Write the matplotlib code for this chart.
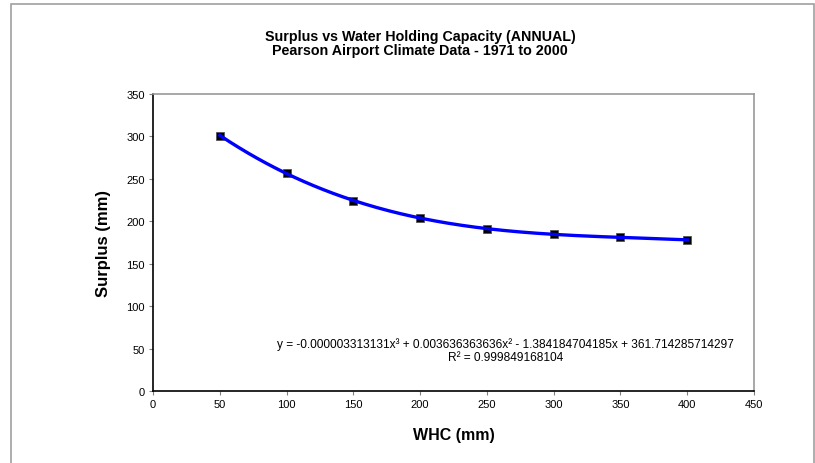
import matplotlib
matplotlib.use('Agg')
import matplotlib.pyplot as plt
import numpy as np
from matplotlib.patches import Rectangle

plt.rcParams['font.family'] = ['Liberation Sans', 'DejaVu Sans']

whc = [50, 100, 150, 200, 250, 300, 350, 400]          # mm
surplus = [301, 257, 224, 204, 191, 185, 181, 178]     # mm

title = 'Surplus vs Water Holding Capacity (ANNUAL)\nPearson Airport Climate Data - 1971 to 2000'
eq_text = ('y = -0.000003313131x³ + 0.003636363636x² - 1.384184704185x + 361.714285714297\n'
           'R² = 0.999849168104')

x = np.array(whc, dtype=float)
y = np.array(surplus, dtype=float)

# cubic trendline like the excel one
coef = np.polyfit(x, y, 3)
xs = np.linspace(x.min(), x.max(), 200)
ys = np.polyval(coef, xs)

fig = plt.figure(figsize=(8.15, 4.64), dpi=100)
ax = fig.add_axes([153/815, 72/464, 601/815, 297/464])

# chart area border
fig.patches.append(Rectangle((11/815, -0.05), 803/815, 1.05 - 5/464, transform=fig.transFigure,
                             fill=False, edgecolor='#a0a0a0', linewidth=1.2))

ax.plot(x, y, 's', color='black', markersize=6, markeredgecolor='#555555', markeredgewidth=0.6, zorder=3)
ax.plot(xs, ys, color='#0000ff', linewidth=2.4, zorder=4)

ax.set_xlim(0, 450)
ax.set_ylim(0, 350)
ax.set_xticks(np.arange(0, 451, 50))
ax.set_yticks(np.arange(0, 351, 50))
ax.tick_params(axis='both', labelsize=8, length=3, width=0.8, color='#808080', direction='out', pad=3)

for s in ['top', 'right']:
    ax.spines[s].set_color('#999999')
    ax.spines[s].set_linewidth(1.2)
for s in ['left', 'bottom']:
    ax.spines[s].set_color('black')
    ax.spines[s].set_linewidth(1.2)

ax.set_xlabel('WHC (mm)', fontsize=11.5, fontweight='bold', labelpad=13)
ax.set_ylabel('Surplus (mm)', fontsize=12, fontweight='bold', labelpad=11)

fig.text(420/815, 1 - 44/464, title, ha='center', va='center', fontsize=10.3, fontweight='bold',
         linespacing=1.05)
ax.text(264, 48, eq_text, ha='center', va='center', fontsize=8.6, linespacing=1.15)

fig.savefig('out.png', dpi=100)
